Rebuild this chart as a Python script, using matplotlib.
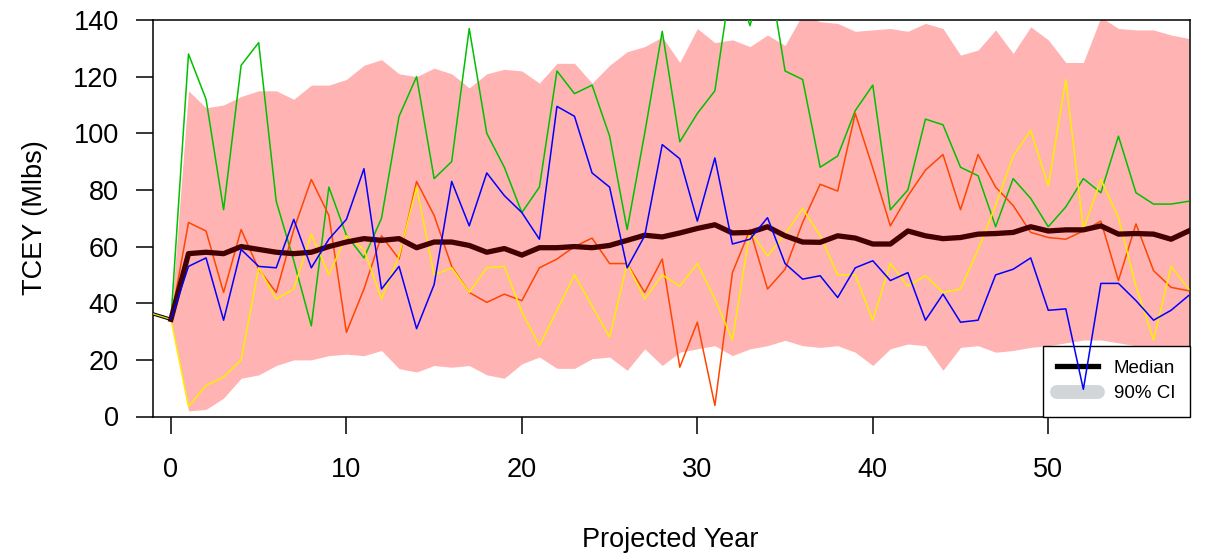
import numpy as np
import matplotlib
matplotlib.use("Agg")
import matplotlib.pyplot as plt
from matplotlib.lines import Line2D

plt.rcParams['font.family'] = ['Liberation Sans', 'DejaVu Sans']

years = np.arange(0, 59)

# historical piece before the projection starts
hist_years = [-2, -1, 0]
hist_vals = [37.0, 36.2, 34.3]

median = [34.3, 57.5, 58, 57.5, 60, 59, 58, 57.5, 58, 60, 61.6, 62.8, 62.2, 62.8, 59.6,
          61.6, 61.6, 60.4, 58, 59.3, 57, 59.6, 59.6, 60, 59.6, 60.4, 62.2, 64, 63.4, 64.8,
          66.4, 67.7, 64.8, 65, 67, 63.8, 61.6, 61.5, 63.8, 63, 60.9, 60.9, 65.5, 63.8, 62.8,
          63.2, 64.4, 64.6, 65, 67, 65.5, 65.9, 65.9, 67.3, 64.4, 64.6, 64.4, 62.6, 65.5]

ci_upper = [34.3, 115, 109, 110, 113, 115, 115, 112, 117, 117, 119, 124, 126, 121, 120,
            123, 121, 116, 121, 122.6, 122, 117.7, 124.7, 124.7, 117.7, 124, 128.8, 130.6, 134, 125,
            137, 132, 133, 130.6, 134.7, 131, 142, 139.4, 138.8, 136, 136.5, 137, 136, 138.8, 137,
            127.6, 129.4, 136.5, 128.2, 137.6, 133, 125, 125, 141, 137, 136.5, 136.5, 134.7, 133.5]

ci_lower = [34.3, 2, 2.5, 6.5, 13.5, 14.7, 18, 20, 20, 21.5, 22, 21.5, 23.3, 16.9, 15.7,
            18, 17.4, 18, 14.7, 13.5, 18.6, 21, 17, 17, 20.4, 21, 16.3, 23.9, 18, 22.7,
            23.9, 25, 21.5, 23.9, 25, 26.9, 25, 24.4, 25, 22.7, 18, 23.9, 25.6, 25, 16.3,
            24.4, 25, 22.7, 23.3, 24.4, 25, 26, 27, 27, 26, 25, 24.5, 24.5, 25]

trace_green = [34.3, 128, 112, 73, 124, 132, 76, 55, 32, 81, 64, 56, 70, 106, 120,
               84, 90, 137, 100, 88, 72, 81, 122, 114, 117, 99, 66, 100, 136, 97,
               107, 115, 157, 138, 160, 122, 119, 88, 92, 108, 117, 73, 80, 105, 103,
               88, 85, 67, 84, 77, 67, 74, 84, 79, 99, 79, 75, 75, 76]

trace_blue = [34.3, 53, 56, 34, 59, 53, 52.5, 69.6, 52.5, 62.6, 69.6, 87.5, 45, 53, 31,
              46.6, 83, 67.3, 86, 78, 72, 62.6, 109.5, 106, 86, 81, 52.5, 63.8, 96, 91,
              69, 91.3, 60.9, 62.6, 70.2, 54, 48.5, 49.7, 42, 52.5, 55, 48, 50.8, 34, 43.2,
              33.3, 34, 50, 52, 56, 37.5, 38, 9.6, 47, 47, 40.9, 34, 37.5, 42.7]

trace_red = [34.3, 68.5, 65.5, 43.8, 66, 52, 43.8, 66, 83.7, 71, 29.7, 45, 63.8, 55.6, 83,
             71, 53, 43.8, 40.3, 43.2, 40.9, 52.5, 55.6, 60, 63, 54, 54, 43.8, 55.6, 17.4,
             33.3, 3.9, 50.8, 66, 45, 52, 68.5, 82, 79.6, 107, 87.7, 67.3, 77.9, 87, 92.5,
             73, 92.5, 81, 74.5, 65, 63.2, 62.6, 65.5, 69, 48, 68, 51.5, 45.6, 44.4]

trace_yellow = [34.3, 3.5, 11, 13.9, 20, 52.5, 41.5, 45, 64.4, 50, 63.8, 59, 41.5, 56.7, 81,
                50, 52.5, 43.8, 52.5, 53, 36.9, 25, 37.5, 50, 39, 28, 54, 41.5, 50, 46,
                54, 41.5, 27, 65.5, 56.7, 64.4, 73.4, 63.8, 50, 50, 34, 54, 46, 49.7, 43.8,
                45, 59, 74.5, 92, 101, 81.4, 118.9, 66, 83.7, 70.2, 46, 27, 53, 45]

fig = plt.figure(figsize=(12.06, 5.54), dpi=100)
ax = fig.add_axes([152.7/1206, 1-416.5/554, (1189.5-152.7)/1206, (416.5-20)/554])

ax.fill_between(years, ci_lower, ci_upper, color='#ffb3b3', lw=0, zorder=1)

ax.plot(hist_years, hist_vals, color='black', lw=2.4, zorder=3)
ax.plot(hist_years, hist_vals, color='#e6e600', lw=0.9, zorder=3)

ax.plot(years, trace_green, color='#00c000', lw=1.1, zorder=3)
ax.plot(years, trace_red, color='#ff4500', lw=1.1, zorder=3)
ax.plot(years, trace_yellow, color='#ffee00', lw=1.1, zorder=3)
ax.plot(years, trace_blue, color='#0000ff', lw=1.1, zorder=4)
ax.plot(years, median, color='#420000', lw=3.8, zorder=3.5)

ax.set_xlim(-1.04, 58.05)
ax.set_ylim(0, 140)
ax.set_xticks([0, 10, 20, 30, 40, 50])
ax.set_yticks(np.arange(0, 141, 20))
ax.tick_params(axis='both', direction='out', length=12.5, width=1.1, labelsize=19.5, colors='black')
ax.tick_params(axis='x', pad=17)
ax.tick_params(axis='y', pad=12)
for s in ax.spines.values():
    s.set_linewidth(1.1)
    s.set_color('black')

fig.text(35/1206, 1-218/554, 'TCEY (Mlbs)', rotation=90, ha='center', va='center', fontsize=19.5)
fig.text(670/1206, 1-540/554, 'Projected Year', ha='center', va='center', fontsize=19.5)

handles = [Line2D([], [], color='black', lw=3.8),
           Line2D([], [], color='#d3d6d9', lw=10, solid_capstyle='round')]
leg = ax.legend(handles, ['Median', '90% CI'], loc='lower right', bbox_to_anchor=(1, 0),
                borderaxespad=0, fontsize=13.5, frameon=True, fancybox=False,
                edgecolor='black', framealpha=1, handlelength=2.2, handletextpad=0.85,
                labelspacing=0.45, borderpad=0.75)
leg.get_frame().set_linewidth(1.0)
leg.set_zorder(2.5)

fig.savefig('out.png', dpi=100)
